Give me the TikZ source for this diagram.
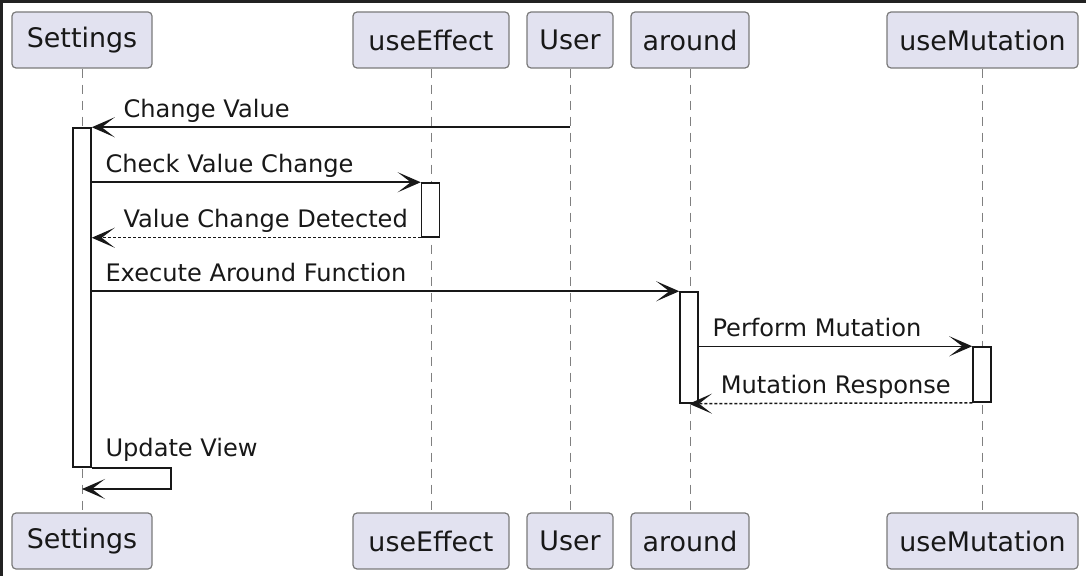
\documentclass[tikz,border=0pt]{standalone}
\usepackage{fontspec}
\setmainfont{DejaVu Sans}
\usetikzlibrary{arrows.meta,positioning}
\definecolor{partfill}{HTML}{E2E2F0}
\definecolor{partline}{HTML}{7A7A7A}
\definecolor{seqline}{HTML}{181818}
\definecolor{shotedge}{HTML}{222222}
\tikzset{
    part/.style={rectangle, rounded corners=4bp, minimum height=56bp, draw=partline, line width=1.2bp, fill=partfill, inner xsep=0pt, text=seqline, font=\fontsize{27}{31}\selectfont},
    act/.style={rectangle, minimum width=18bp, draw=seqline, line width=1.5bp, fill=white, inner sep=0pt},
    lifeline/.style={draw=gray, line width=1bp, dash pattern=on 9bp off 7bp},
    msg/.style={-{Stealth[length=23bp,width=20bp,inset=13bp]}, line width=1.5bp, draw=seqline},
    reply/.style={msg, dash pattern=on 3bp off 2bp},
    msglabel/.style={anchor=base west, inner sep=0pt, text=seqline, font=\fontsize{24.2}{28}\selectfont},
}
\begin{document}
\begin{tikzpicture}
        [x=1bp, y=-1bp]
        \useasboundingbox (0,0) rectangle (1086,576);

        % Screenshot edge
        \fill[shotedge] (0,0) rectangle (1086,3);
        \fill[shotedge] (0,0) rectangle (3,576);

        % Participants, top row
        \node[part, minimum width=140bp] (settingsTop) at (82,40) {Settings};
        \node[part, minimum width=156bp] (effectTop) at (431,40) {useEffect};
        \node[part, minimum width=86bp] (userTop) at (570,40) {User};
        \node[part, minimum width=118bp] (aroundTop) at (690,40) {around};
        \node[part, minimum width=191bp] (mutationTop) at (982.5,40) {useMutation};

        % Participants, bottom row
        \node[part, minimum width=140bp] (settingsBot) at (82,541) {Settings};
        \node[part, minimum width=156bp] (effectBot) at (431,541) {useEffect};
        \node[part, minimum width=86bp] (userBot) at (570,541) {User};
        \node[part, minimum width=118bp] (aroundBot) at (690,541) {around};
        \node[part, minimum width=191bp] (mutationBot) at (982.5,541) {useMutation};

        % Lifelines
        \draw[lifeline] (settingsTop) -- (settingsBot);
        \draw[lifeline] (effectTop) -- (effectBot);
        \draw[lifeline] (userTop) -- (userBot);
        \draw[lifeline] (aroundTop) -- (aroundBot);
        \draw[lifeline] (mutationTop) -- (mutationBot);

        % Activations
        \node[act, minimum height=339bp] (settingsAct) at (82,297.5) {};
        \node[act, minimum height=54bp] (effectAct) at (430.5,210) {};
        \node[act, minimum height=111bp] (aroundAct) at (689,347.5) {};
        \node[act, minimum height=55bp] (mutationAct) at (982,374.5) {};

        % Messages
        \draw[msg] (userTop |- settingsAct.north) -- (settingsAct.north east)
            node[msglabel, xshift=31bp, yshift=10bp] {Change Value};
        \draw[msg] (settingsAct.east |- effectAct.north)
            node[msglabel, xshift=13bp, yshift=10bp] {Check Value Change} -- (effectAct.north west);
        \draw[reply] (effectAct.south west) -- (settingsAct.east |- effectAct.south)
            node[msglabel, xshift=31bp, yshift=10bp] {Value Change Detected};
        \draw[msg] (settingsAct.east |- aroundAct.north)
            node[msglabel, xshift=13bp, yshift=10bp] {Execute Around Function} -- (aroundAct.north west);
        \draw[msg] (aroundAct.east |- mutationAct.north)
            node[msglabel, xshift=13bp, yshift=10bp] {Perform Mutation} -- (mutationAct.north west);
        \draw[reply] (mutationAct.south west) -- (aroundAct.south)
            node[msglabel, xshift=31bp, yshift=10bp] {Mutation Response};

        % Self message
        \coordinate (viewBack) at (82,489);
        \draw[msg] (settingsAct.south east)
            node[msglabel, xshift=13bp, yshift=11bp] {Update View} -- ++(79,0) |- (viewBack);
    \end{tikzpicture}
\end{document}
